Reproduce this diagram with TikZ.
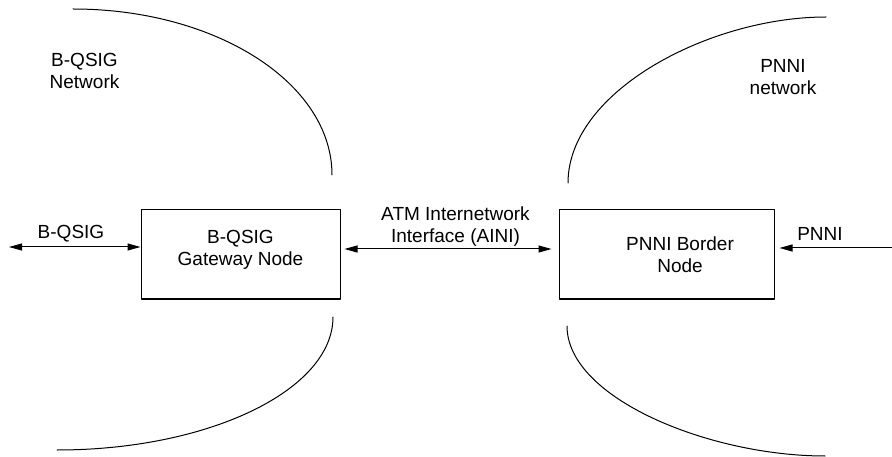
\documentclass[tikz,border=0pt]{standalone}
\usepackage{fontspec}
\setmainfont{Liberation Sans}
\usepackage{pgf,tikz}
\usetikzlibrary{arrows.meta}
\usetikzlibrary{positioning}
\tikzset{
  netbox/.style={draw=black,line width=1pt,inner sep=0pt},
  lbl/.style={inner sep=0pt,align=center,font=\fontsize{19}{22}\selectfont}
}
\begin{document}
\begin{tikzpicture}[line cap=round,line join=round,>={Triangle[length=13pt,width=7pt]},x=1pt,y=-1pt,line width=1pt]
\useasboundingbox (0,0) rectangle (892,457);
\node[netbox,minimum width=199pt,minimum height=89pt] (gwbox) at (240.5,254.5) {};
\node[netbox,minimum width=215pt,minimum height=89pt] (brbox) at (666.5,254.5) {};
\node[lbl] (gwtext) at (240.5,250) {B-QSIG\\Gateway Node};
\node[lbl] (brtext) at (680,255) {PNNI Border\\Node};
\node[lbl] (qsignet) at (84.5,71) {B-QSIG\\Network};
\node[lbl] (pnninet) at (783,77) {PNNI\\network};
\node[lbl] (aini) at (455.5,227) {ATM Internetwork\\Interface (AINI)};
\node[lbl] (qsiglbl) at (71,234) {B-QSIG};
\node[lbl] (pnnilbl) at (820,234) {PNNI};
\coordinate (qsigend) at (9,247);
\coordinate (pnniend) at (892,248);
\draw[<->,color=black] (qsigend) -- (qsigend -| gwbox.west);
\draw[<->,color=black,shorten <=4pt,shorten >=7pt] ([yshift=5.5pt]gwbox.east) -- ([yshift=5.5pt]brbox.west);
\draw[->,color=black,shorten >=5pt] (pnniend) -- (pnniend -| brbox.east);
\draw[color=black] (73,9) .. controls (216,9) and (332,83) .. (332,175);
\draw[color=black] (333,317) .. controls (333,390) and (209,450) .. (57,450);
\draw[color=black] (568,183) .. controls (568,91) and (710,17) .. (826,17);
\draw[color=black] (567,326) .. controls (567,398) and (709,456) .. (825,456);
\end{tikzpicture}
\end{document}
